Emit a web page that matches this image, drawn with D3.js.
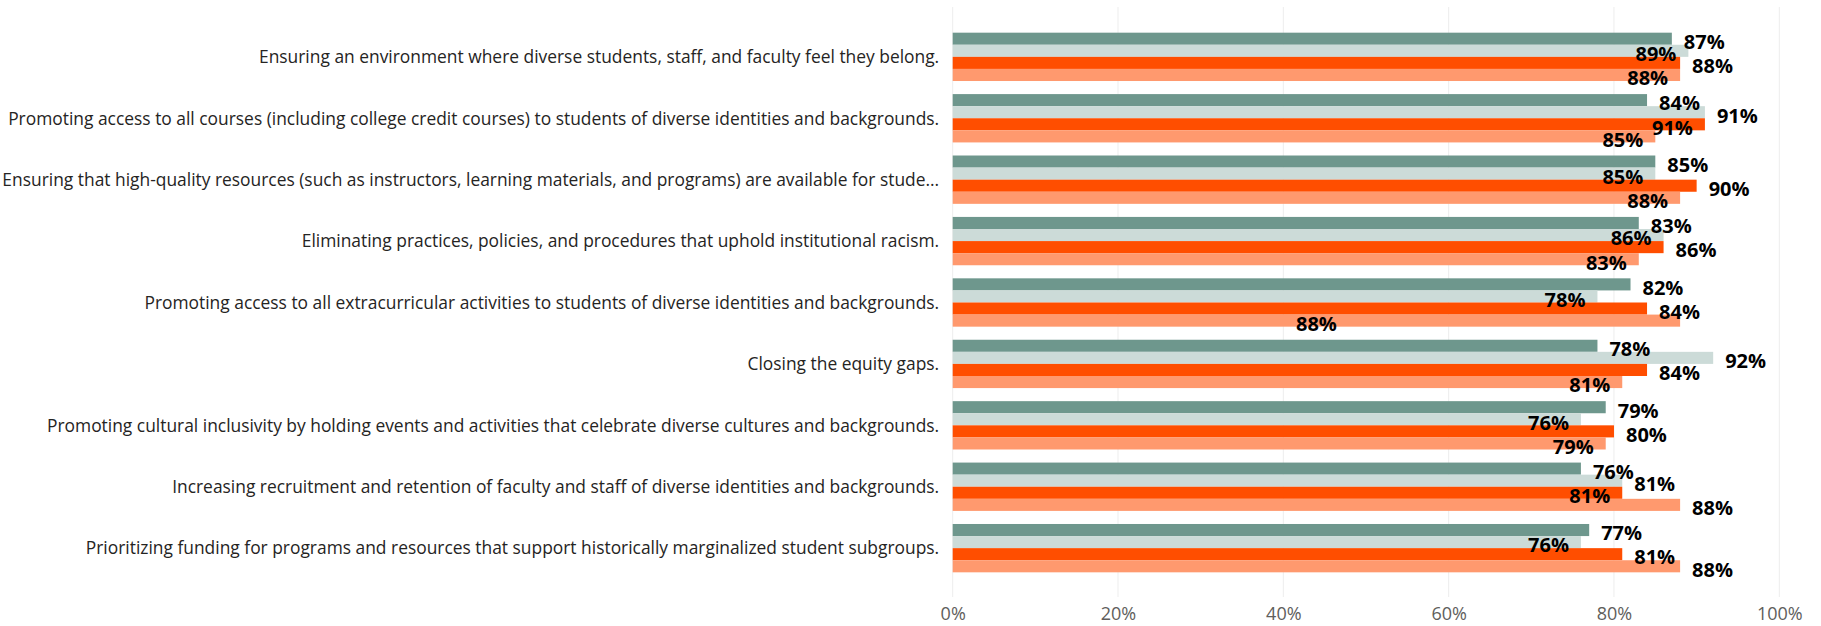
<!DOCTYPE html>
<html>
<head>
<meta charset="utf-8">
<script src="https://cdn.jsdelivr.net/npm/d3@7/dist/d3.min.js"></script>
<style>
  html, body { margin: 0; padding: 0; background: #ffffff; }
  svg { display: block; }
</style>
</head>
<body>
<svg id="chart" width="1821" height="626"></svg>
<script>
// Survey items, top to bottom
const categories = [
  "Ensuring an environment where diverse students, staff, and faculty feel they belong.",
  "Promoting access to all courses (including college credit courses) to students of diverse identities and backgrounds.",
  "Ensuring that high-quality resources (such as instructors, learning materials, and programs) are available for stude...",
  "Eliminating practices, policies, and procedures that uphold institutional racism.",
  "Promoting access to all extracurricular activities to students of diverse identities and backgrounds.",
  "Closing the equity gaps.",
  "Promoting cultural inclusivity by holding events and activities that celebrate diverse cultures and backgrounds.",
  "Increasing recruitment and retention of faculty and staff of diverse identities and backgrounds.",
  "Prioritizing funding for programs and resources that support historically marginalized student subgroups."
];

// Series, in the order the bars are stacked inside each group
const seriesKeys = ["group1", "group2", "group3", "group4"];
const seriesColors = ["#6E978D", "#CCDBD8", "#FF4E00", "#FF996E"];

// Percent agreeing, per series
const group1 = [87, 84, 85, 83, 82, 78, 79, 76, 77];
const group2 = [89, 91, 85, 86, 78, 92, 76, 81, 76];
const group3 = [88, 91, 90, 86, 84, 84, 80, 81, 81];
const group4 = [88, 85, 88, 83, 88, 81, 79, 88, 88];
const seriesValues = [group1, group2, group3, group4];

// Axis ticks
const tickValues = [0, 20, 40, 60, 80, 100];
const tickLabels = ["0%", "20%", "40%", "60%", "80%", "100%"];

const svg = d3.select("#chart");

const x = d3.scaleLinear().domain([0, 100]).range([952.7, 1779.3]);
const y = d3.scaleBand().domain(d3.range(categories.length))
  .range([7.5, 597.5]).paddingInner(0.213).paddingOuter(0.41);
const ySub = d3.scaleBand().domain(seriesKeys).range([0, y.bandwidth()]);

// Vertical gridlines
svg.append("g").selectAll("line").data(tickValues).join("line")
  .attr("x1", d => x(d)).attr("x2", d => x(d))
  .attr("y1", 7).attr("y2", 597)
  .attr("stroke", "#ededed").attr("stroke-width", 1);

// X axis labels
const xAxis = d3.axisBottom(x).tickValues(tickValues)
  .tickFormat((d, i) => tickLabels[i]).tickSize(0).tickPadding(0);
const xg = svg.append("g").attr("transform", "translate(0,607.5)").call(xAxis);
xg.select(".domain").remove();
xg.selectAll("text")
  .attr("dy", "0.71em")
  .style("font-family", "'Segoe UI', 'Open Sans', sans-serif")
  .style("font-size", "18px")
  .attr("fill", "#605E5C");

// Category labels
svg.append("g").selectAll("text").data(categories).join("text")
  .attr("x", x(0) - 13.5)
  .attr("y", (d, i) => y(i) + y.bandwidth() / 2)
  .attr("dy", "0.36em")
  .attr("text-anchor", "end")
  .style("font-family", "'Segoe UI', 'Open Sans', sans-serif")
  .style("font-size", "17.4px")
  .attr("fill", "#252423")
  .text(d => d);

// Bars
const rows = [];
categories.forEach((c, i) => {
  seriesKeys.forEach((k, s) => {
    rows.push({ cat: i, key: k, s, value: seriesValues[s][i] });
  });
});

svg.append("g").selectAll("rect").data(rows).join("rect")
  .attr("x", x(0))
  .attr("y", d => y(d.cat) + ySub(d.key))
  .attr("width", d => x(d.value) - x(0))
  .attr("height", ySub.bandwidth())
  .attr("fill", d => seriesColors[d.s]);

// Data labels: try outside end, then inside end, then inside center,
// skipping any spot that overlaps a label already placed.
const labelLayer = svg.append("g");
const placed = [];
const gap = 12;
const boxH = 18;
const tol = 2;
rows.forEach(d => {
  const cy = y(d.cat) + ySub(d.key) + ySub.bandwidth() / 2 + 3.3;
  const t = labelLayer.append("text")
    .attr("y", cy)
    .attr("dy", "0.35em")
    .style("font-family", "'Segoe UI', 'Open Sans', sans-serif")
    .style("font-size", "20px")
    .style("font-weight", "700")
    .attr("fill", "#000")
    .text(d3.format(".0f")(d.value) + "%");
  const w = t.node().getComputedTextLength();
  const end = x(d.value);
  const candidates = [
    end + gap,
    end - gap - w,
    (x(0) + end) / 2 - w / 2
  ];
  let chosen = candidates[candidates.length - 1];
  for (const x0 of candidates) {
    const hit = placed.some(p =>
      Math.abs(p.cy - cy) < boxH &&
      x0 < p.x1 - tol && x0 + w > p.x0 + tol);
    if (!hit) { chosen = x0; break; }
  }
  placed.push({ x0: chosen, x1: chosen + w, cy });
  t.attr("x", chosen);
});
</script>
</body>
</html>
